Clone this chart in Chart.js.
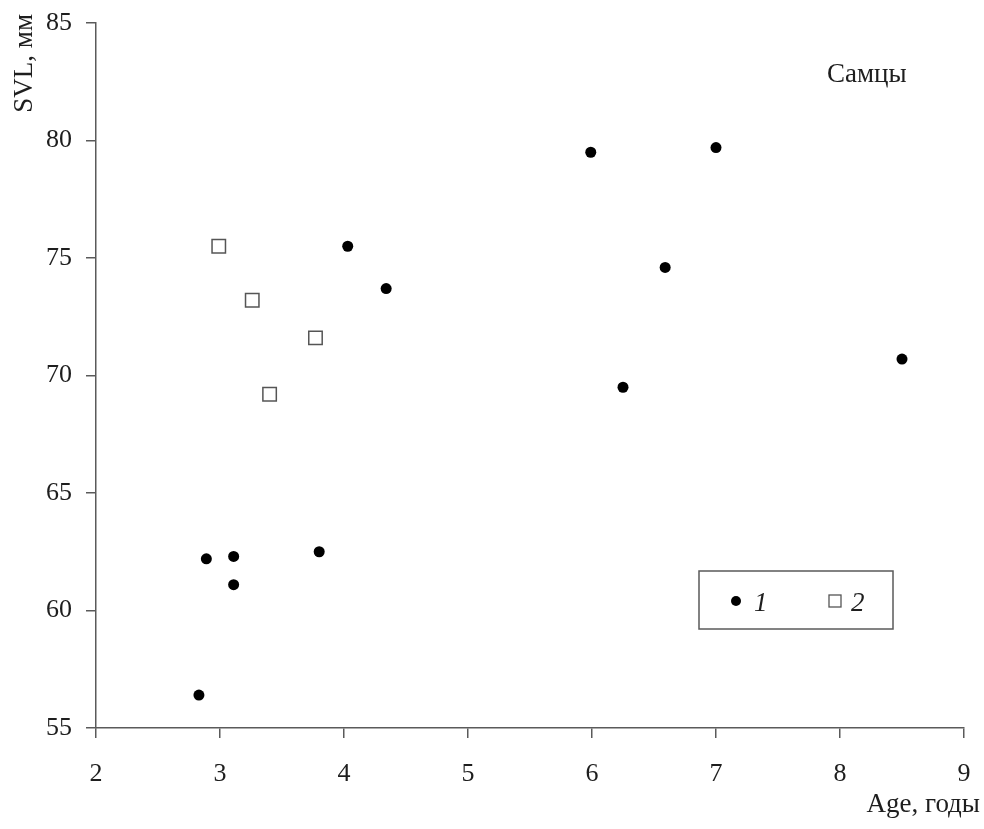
<!DOCTYPE html>
<html>
<head>
<meta charset="utf-8">
<script src="https://cdn.jsdelivr.net/npm/chart.js@4"></script>
<style>
body{margin:0;background:#fff;}
#wrap{width:984px;height:829px;position:relative;}
</style>
</head>
<body>
<div id="wrap"><canvas id="chart"></canvas></div>
<script>
// group 1 (filled circles)
const ageGroup1 = [2.83, 2.89, 3.11, 3.11, 3.80, 4.03, 4.34, 5.99, 6.25, 6.59, 7.0, 8.5];
const svlGroup1 = [56.4, 62.2, 62.3, 61.1, 62.5, 75.5, 73.7, 79.5, 69.5, 74.6, 79.7, 70.7];

// group 2 (open squares)
const ageGroup2 = [2.99, 3.26, 3.40, 3.77];
const svlGroup2 = [75.5, 73.2, 69.2, 71.6];

const seriesNames = ["1", "2"];
const xTicks = [2, 3, 4, 5, 6, 7, 8, 9];
const yTicks = [55, 60, 65, 70, 75, 80, 85];

const xTitle = "Age, годы";
const yTitle = "SVL, мм";
const panelLabel = "Самцы";

const toPoints = (xs, ys) => xs.map((x, i) => ({x: x, y: ys[i]}));

const serif = "'Liberation Serif', 'Times New Roman', serif";
const axisColor = "#5a5a5a";
const textColor = "#1e1e1e";

// titles, panel label and boxed legend
const extras = {
  id: "extras",
  afterDraw(chart) {
    const ctx = chart.ctx;
    const a = chart.chartArea;
    const ds = chart.data.datasets;
    ctx.save();
    ctx.fillStyle = textColor;
    ctx.font = "27px " + serif;

    // y title, rotated, top aligned
    ctx.save();
    ctx.translate(32, 14);
    ctx.rotate(-Math.PI / 2);
    ctx.textAlign = "right";
    ctx.textBaseline = "alphabetic";
    ctx.fillText(yTitle, 0, 0);
    ctx.restore();

    // x title, right aligned
    ctx.textAlign = "right";
    ctx.textBaseline = "alphabetic";
    ctx.fillText(xTitle, a.right + 16, 812);

    // panel label
    ctx.textAlign = "left";
    ctx.fillText(panelLabel, 827, 82);

    // legend box
    const bx = 699, by = 571, bw = 194, bh = 58;
    ctx.strokeStyle = axisColor;
    ctx.lineWidth = 1.5;
    ctx.strokeRect(bx, by, bw, bh);

    const cy = by + bh / 2 + 1;
    // circle entry
    ctx.beginPath();
    ctx.arc(bx + 37, cy, 5, 0, Math.PI * 2);
    ctx.fillStyle = ds[0].backgroundColor;
    ctx.fill();
    // square entry
    ctx.fillStyle = "#fff";
    ctx.strokeStyle = ds[1].borderColor;
    ctx.lineWidth = 1.3;
    ctx.fillRect(bx + 130, cy - 6, 12, 12);
    ctx.strokeRect(bx + 130, cy - 6, 12, 12);

    ctx.fillStyle = textColor;
    ctx.font = "italic 27px " + serif;
    ctx.textAlign = "left";
    ctx.fillText(ds[0].label, bx + 55, cy + 10);
    ctx.fillText(ds[1].label, bx + 152, cy + 10);
    ctx.restore();
  }
};

new Chart(document.getElementById("chart"), {
  type: "scatter",
  data: {
    datasets: [
      {
        label: seriesNames[0],
        data: toPoints(ageGroup1, svlGroup1),
        pointStyle: "circle",
        pointRadius: 5.5,
        backgroundColor: "#000",
        borderColor: "#000",
        borderWidth: 0
      },
      {
        label: seriesNames[1],
        data: toPoints(ageGroup2, svlGroup2),
        pointStyle: "rect",
        pointRadius: 9.5,
        backgroundColor: "#fff",
        borderColor: "#555",
        borderWidth: 1.5
      }
    ]
  },
  options: {
    responsive: true,
    maintainAspectRatio: false,
    animation: false,
    layout: {padding: {left: 0, top: 23, right: 20, bottom: 0}},
    plugins: {
      legend: {display: false},
      tooltip: {enabled: false}
    },
    scales: {
      x: {
        type: "linear",
        min: xTicks[0],
        max: xTicks[xTicks.length - 1],
        afterBuildTicks: s => { s.ticks = xTicks.map(v => ({value: v})); },
        afterFit: s => { s.height = 101; s.paddingLeft = 0; s.paddingRight = 0; },
        border: {display: true, color: axisColor, width: 1.5},
        grid: {display: true, drawOnChartArea: false, drawTicks: true, tickLength: 10, color: axisColor, lineWidth: 1.5},
        ticks: {color: textColor, padding: 21, font: {family: serif, size: 26}}
      },
      y: {
        type: "linear",
        min: yTicks[0],
        max: yTicks[yTicks.length - 1],
        afterBuildTicks: s => { s.ticks = yTicks.map(v => ({value: v})); },
        afterFit: s => { s.width = 96; s.paddingTop = 0; s.paddingBottom = 0; },
        border: {display: true, color: axisColor, width: 1.5},
        grid: {display: true, drawOnChartArea: false, drawTicks: true, tickLength: 10, color: axisColor, lineWidth: 1.5},
        ticks: {color: textColor, padding: 14, font: {family: serif, size: 26}}
      }
    }
  },
  plugins: [extras]
});
</script>
</body>
</html>
